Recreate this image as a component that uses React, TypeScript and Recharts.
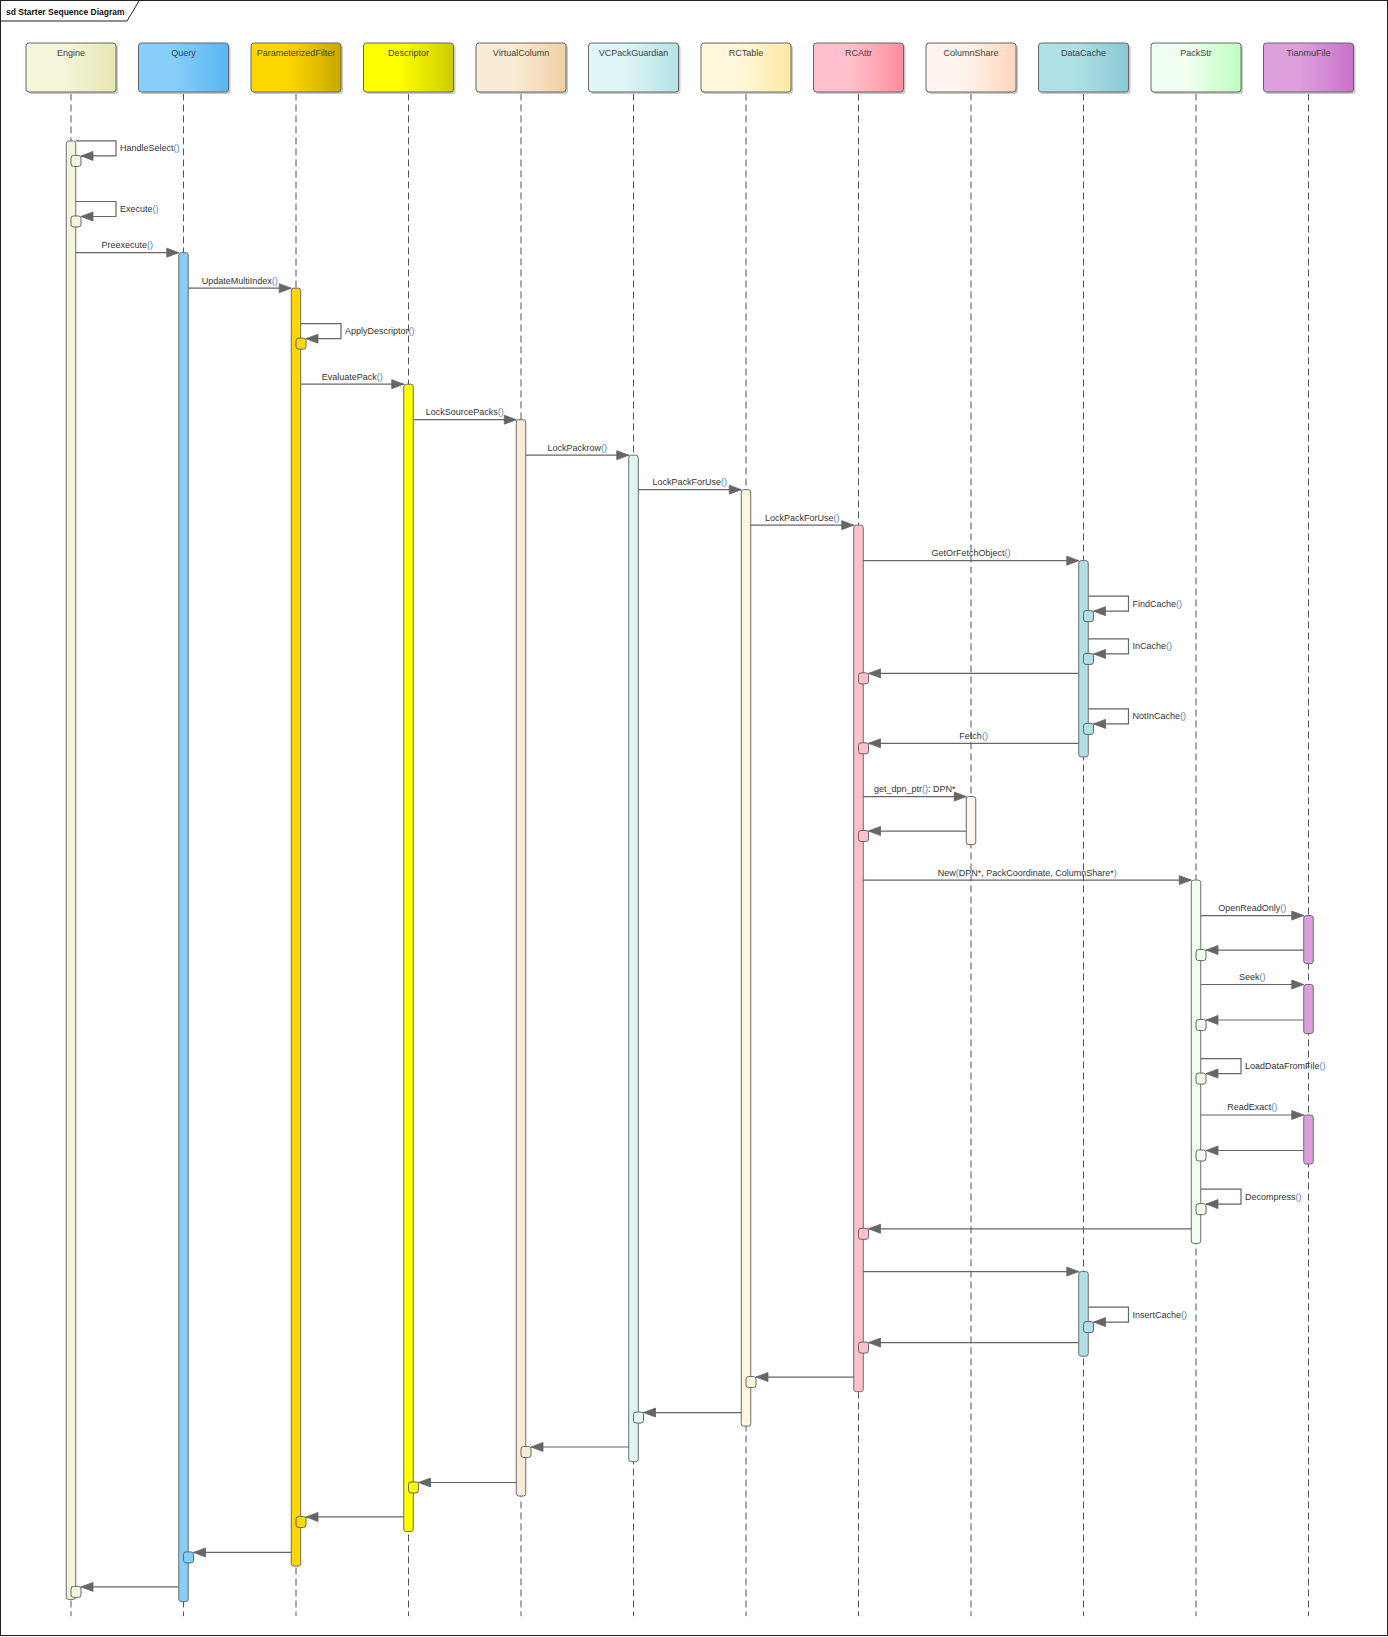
import { ComposedChart, Line, Scatter, ReferenceArea, XAxis, YAxis } from 'recharts';

// participants (left to right)
const participants = [
  'Engine', 'Query', 'ParameterizedFilter', 'Descriptor', 'VirtualColumn', 'VCPackGuardian',
  'RCTable', 'RCAttr', 'ColumnShare', 'DataCache', 'PackStr', 'TianmuFile',
];
const lightColors = [
  '#f5f5dc', '#87cefa', '#ffd700', '#ffff00', '#faebd7', '#e0f5f5',
  '#fff8dc', '#ffc0cb', '#fff5ee', '#b0e0e6', '#f0fff0', '#dda0dd',
];
const darkColors = [
  '#e6e6b4', '#58b6f2', '#c9a800', '#cccc00', '#f2d0a4', '#b2e4e8',
  '#ffe8a4', '#ff8e9e', '#ffd6ba', '#88cad4', '#c0ffc0', '#c872c8',
];

// activation bars: lane index, start, end (diagram time units)
const actLane = [0, 1, 2, 3, 4, 5, 6, 7, 9, 8, 10, 11, 11, 11, 9];
const actStart = [135, 242, 276, 368, 402, 436, 469, 503, 537, 763, 843, 877, 943, 1068, 1218];
const actEnd = [1532, 1534, 1500, 1467, 1433, 1400, 1366, 1333, 725, 809, 1191, 923, 990, 1115, 1299];

// messages: from lane, to lane, time, label
const msgFrom = [0, 0, 0, 1, 2, 2, 3, 4, 5, 6, 7, 9, 9, 9, 9, 9, 7, 8, 7, 10, 11, 10, 11, 10, 10, 11, 10, 10, 7, 9, 9, 7, 6, 5, 4, 3, 2, 1];
const msgTo = [0, 0, 1, 2, 2, 3, 4, 5, 6, 7, 9, 9, 9, 7, 9, 7, 8, 7, 10, 11, 10, 11, 10, 10, 11, 10, 10, 7, 9, 9, 7, 6, 5, 4, 3, 2, 1, 0];
const msgY = [135, 193, 242, 276, 310, 368, 402, 436, 469, 503, 537, 571, 612, 645, 679, 712, 763, 796, 843, 877, 910, 943, 977, 1014, 1068, 1102, 1139, 1177, 1218, 1252, 1286, 1319, 1353, 1386, 1420, 1453, 1487, 1520];
const msgLabel = [
  'HandleSelect()', 'Execute()', 'Preexecute()', 'UpdateMultiIndex()', 'ApplyDescriptor()', 'EvaluatePack()',
  'LockSourcePacks()', 'LockPackrow()', 'LockPackForUse()', 'LockPackForUse()', 'GetOrFetchObject()',
  'FindCache()', 'InCache()', '', 'NotInCache()', 'Fetch()', 'get_dpn_ptr(): DPN*', '',
  'New(DPN*, PackCoordinate, ColumnShare*)', 'OpenReadOnly()', '', 'Seek()', '', 'LoadDataFromFile()',
  'ReadExact()', '', 'Decompress()', '', '', 'InsertCache()', '', '', '', '', '', '', '', '',
];

const headerTop = 41.2;
const lifelineTop = 89.5;
const lifelineBottom = 1548;

// layout
const W = 1388;
const H = 1637;
const LANE_PX = 112.5;
const LANE0_PX = 71;
const X_MIN = -LANE0_PX / LANE_PX;
const X_MAX = X_MIN + W / LANE_PX;
const Y_MAX = 1568;
const px = (n: number) => n / LANE_PX;
const py = (n: number) => (n * Y_MAX) / H;

const BAR_HALF = 4.75;
const LOOP_W = 45;
const LOOP_H = 15;
const SQ_W = 10;
const LINE = '#666666';
const FONT = '"Liberation Sans", Arial, sans-serif';

type Pt = { x: number; y: number };

const messages = msgY.map((y, i) => {
  const f = msgFrom[i];
  const t = msgTo[i];
  let pts: Pt[];
  if (f === t) {
    pts = [
      { x: f + px(BAR_HALF), y },
      { x: f + px(LOOP_W), y },
      { x: f + px(LOOP_W), y: y + py(LOOP_H) },
      { x: f + px(SQ_W), y: y + py(LOOP_H) },
    ];
  } else if (t > f) {
    pts = [{ x: f + px(BAR_HALF), y }, { x: t - px(BAR_HALF), y }];
  } else {
    pts = [{ x: f - px(BAR_HALF), y }, { x: t + px(SQ_W), y }];
  }
  const n = pts.length;
  return { pts, dir: pts[n - 1].x > pts[n - 2].x ? 1 : -1 };
});

const squares = messages
  .map((m, i) => ({ m, i }))
  .filter(({ i }) => msgTo[i] <= msgFrom[i])
  .map(({ m, i }) => ({ x: msgTo[i], y: m.pts[m.pts.length - 1].y - py(0.5), lane: msgTo[i] }));

const labels = messages
  .map((m, i) => {
    const self = msgFrom[i] === msgTo[i];
    const first = m.pts[0];
    const last = m.pts[m.pts.length - 1];
    return self
      ? { x: msgFrom[i] + px(49), y: msgY[i] + py(LOOP_H / 2), text: msgLabel[i], self: true }
      : { x: (first.x + last.x) / 2, y: msgY[i], text: msgLabel[i], self: false };
  })
  .filter((l) => l.text !== '');

const headers = participants.map((name, i) => ({ x: i, y: headerTop, name, lane: i }));

const Label = ({ text }: { text: string }) => (
  <>
    {text.split(/([()])/).filter((s) => s !== '').map((s, k) => (
      <tspan key={k} fill={s === '(' || s === ')' ? '#4d7fc9' : '#333333'}>{s}</tspan>
    ))}
  </>
);

const Arrow = ({ cx, cy, dir }: { cx: number; cy: number; dir: number }) => {
  const bx = cx - dir * 12;
  return <polygon points={`${cx},${cy} ${bx},${cy - 4.5} ${bx},${cy + 4.5}`} fill={LINE} stroke={LINE} strokeWidth={0.8} />;
};

export default function App() {
  return (
    <div style={{ position: 'absolute', left: 0, top: 0, width: W, height: H, background: '#fff' }}>
      <ComposedChart width={W} height={H} margin={{ top: 0, right: 0, bottom: 0, left: 0 }}>
        <defs>
          {participants.map((_, i) => (
            <linearGradient key={i} id={`hdr${i}`} x1="0" y1="0" x2="1" y2="0">
              <stop offset="0" stopColor={lightColors[i]} />
              <stop offset="0.4" stopColor={lightColors[i]} />
              <stop offset="1" stopColor={darkColors[i]} />
            </linearGradient>
          ))}
        </defs>
        <XAxis type="number" dataKey="x" domain={[X_MIN, X_MAX]} allowDataOverflow hide />
        <YAxis type="number" dataKey="y" domain={[0, Y_MAX]} reversed allowDataOverflow hide />

        {participants.map((p, i) => (
          <Line
            key={`life-${p}`}
            data={[{ x: i, y: lifelineTop }, { x: i, y: lifelineBottom }]}
            dataKey="y"
            stroke="#555"
            strokeWidth={1}
            strokeDasharray="7 4"
            dot={false}
            activeDot={false}
            isAnimationActive={false}
            zIndex={50}
          />
        ))}

        {actLane.map((lane, i) => (
          <ReferenceArea
            key={`act-${i}`}
            x1={lane - px(BAR_HALF)}
            x2={lane + px(BAR_HALF)}
            y1={actStart[i]}
            y2={actEnd[i]}
            zIndex={300}
            shape={(p: any) => (
              <rect x={p.x} y={p.y} width={p.width} height={p.height} rx={2.5}
                fill={lightColors[lane]} stroke="#6b6b6b" strokeWidth={1} />
            )}
          />
        ))}

        {messages.map((m, i) => (
          <Line
            key={`msg-${i}`}
            data={m.pts}
            dataKey="y"
            type="linear"
            stroke={LINE}
            strokeWidth={1.2}
            activeDot={false}
            isAnimationActive={false}
            zIndex={400}
            dot={(p: any) =>
              p.index === m.pts.length - 1
                ? <Arrow key={`a-${i}`} cx={p.cx} cy={p.cy} dir={m.dir} />
                : <g key={`a-${i}-${p.index}`} />
            }
          />
        ))}

        <Scatter
          data={squares}
          dataKey="y"
          isAnimationActive={false}
          zIndex={600}
          shape={(p: any) => (
            <rect x={p.cx} y={p.cy} width={SQ_W} height={11} rx={2.5}
              fill={lightColors[p.payload.lane]} stroke="#666" strokeWidth={1} />
          )}
        />

        <Scatter
          data={labels}
          dataKey="y"
          isAnimationActive={false}
          zIndex={650}
          shape={(p: any) => (
            <text
              x={p.cx}
              y={p.payload.self ? p.cy + 3 : p.cy - 4.5}
              textAnchor={p.payload.self ? 'start' : 'middle'}
              fontSize={9}
              fontFamily={FONT}
            >
              <Label text={p.payload.text} />
            </text>
          )}
        />

        <Scatter
          data={headers}
          dataKey="y"
          isAnimationActive={false}
          zIndex={700}
          shape={(p: any) => (
            <g>
              <rect x={p.cx - 43} y={p.cy + 2} width={90} height={49} rx={3} fill="#c8c8c8" />
              <rect x={p.cx - 45} y={p.cy} width={90} height={49} rx={3}
                fill={`url(#hdr${p.payload.lane})`} stroke="#666" strokeWidth={1} />
              <text x={p.cx} y={p.cy + 13} textAnchor="middle" fontSize={9} fontFamily={FONT} fill="#404040">
                {p.payload.name}
              </text>
            </g>
          )}
        />
      </ComposedChart>

      <div style={{ position: 'absolute', left: 0, top: 0, width: W - 2, height: H - 3, border: '1px solid #222', pointerEvents: 'none' }} />
      <svg width={150} height={24} style={{ position: 'absolute', left: 0, top: 0 }}>
        <polyline points="1,21 127,21 139,1" fill="none" stroke="#222" strokeWidth={1} />
        <text x={6} y={14.5} fontSize={8.5} fontWeight="bold" fontFamily={FONT} fill="#111">sd Starter Sequence Diagram</text>
      </svg>
    </div>
  );
}
